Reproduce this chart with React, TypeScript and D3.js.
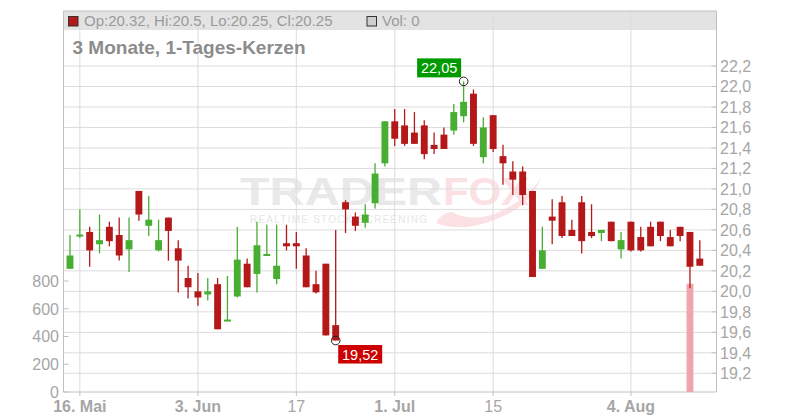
import React from 'react';
import * as d3 from 'd3';

// Daily candles, oldest first
const opens = [
  20.22, 20.54, 20.58, 20.46, 20.63, 20.55, 20.41, 20.98, 20.64, 20.40,
  20.72, 20.42, 20.13, 20.00, 19.97, 20.07, 19.71, 19.95, 20.27, 20.17,
  20.35, 20.12, 20.47, 20.47, 20.35, 20.07, 20.27, 19.67, 20.87, 20.73,
  20.67, 20.86, 21.25, 21.66, 21.62, 21.55, 21.62, 21.43, 21.53, 21.57,
  21.71, 21.93, 21.31, 21.72, 21.32, 21.17, 21.17, 20.98, 20.22, 20.73,
  20.87, 20.60, 20.87, 20.58, 20.57, 20.68, 20.41, 20.68, 20.53, 20.63,
  20.68, 20.53, 20.63, 20.58, 20.32,
];
const highs = [
  20.55, 20.80, 20.63, 20.75, 20.68, 20.72, 20.72, 20.98, 20.93, 20.70,
  20.72, 20.50, 20.25, 20.18, 20.13, 20.13, 20.15, 20.63, 20.32, 20.68,
  20.65, 20.65, 20.65, 20.58, 20.42, 20.20, 20.27, 20.60, 20.89, 20.77,
  20.85, 21.25, 21.66, 21.78, 21.78, 21.75, 21.67, 21.55, 21.60, 21.83,
  22.05, 21.97, 21.70, 21.72, 21.43, 21.27, 21.22, 20.98, 20.63, 20.90,
  20.93, 20.70, 20.93, 20.85, 20.60, 20.68, 20.58, 20.68, 20.63, 20.68,
  20.68, 20.60, 20.63, 20.58, 20.50,
];
const lows = [
  20.22, 20.52, 20.24, 20.37, 20.44, 20.30, 20.19, 20.69, 20.54, 20.39,
  20.30, 19.99, 19.93, 19.86, 19.91, 19.63, 19.71, 19.94, 20.04, 19.99,
  20.35, 20.07, 20.40, 20.22, 20.04, 19.98, 19.57, 19.52, 20.57, 20.59,
  20.62, 20.81, 21.22, 21.42, 21.42, 21.44, 21.29, 21.34, 21.39, 21.53,
  21.65, 21.42, 21.25, 21.36, 21.04, 20.94, 20.84, 20.14, 20.22, 20.46,
  20.52, 20.54, 20.37, 20.52, 20.49, 20.49, 20.32, 20.39, 20.39, 20.44,
  20.49, 20.44, 20.49, 20.03, 20.25,
];
const closes = [
  20.35, 20.55, 20.40, 20.50, 20.49, 20.35, 20.50, 20.75, 20.70, 20.50,
  20.59, 20.30, 20.04, 19.94, 20.00, 19.63, 19.72, 20.31, 20.04, 20.45,
  20.36, 20.25, 20.44, 20.44, 20.04, 19.99, 19.57, 19.52, 20.80, 20.64,
  20.75, 21.15, 21.66, 21.49, 21.44, 21.44, 21.34, 21.39, 21.39, 21.75,
  21.85, 21.44, 21.60, 21.39, 21.25, 21.09, 20.94, 20.14, 20.40, 20.69,
  20.54, 20.54, 20.49, 20.54, 20.60, 20.49, 20.50, 20.40, 20.40, 20.44,
  20.54, 20.44, 20.54, 20.24, 20.25,
];
const volumes = [
  0, 0, 0, 0, 0, 0, 0, 0, 0, 0,
  0, 0, 0, 0, 0, 0, 0, 0, 0, 0,
  0, 0, 0, 0, 0, 0, 0, 0, 0, 0,
  0, 0, 0, 0, 0, 0, 0, 0, 0, 0,
  0, 0, 0, 0, 0, 0, 0, 0, 0, 0,
  0, 0, 0, 0, 0, 0, 0, 0, 0, 0,
  0, 0, 0, 780, 0,
];

const dateTickIdx = [1, 13, 23, 33, 43, 57];
const dateTickLabels = ['16. Mai', '3. Jun', '17', '1. Jul', '15', '4. Aug'];
const priceTicks = [19.2, 19.4, 19.6, 19.8, 20.0, 20.2, 20.4, 20.6, 20.8, 21.0, 21.2, 21.4, 21.6, 21.8, 22.0, 22.2];
const volTicks = [0, 200, 400, 600, 800];

const UP = '#48ae32';
const DOWN = '#b41818';
const GRID = '#dcdcdc';
const AXIS = '#c0c0c0';
const LABEL = '#a6a6a6';
const FONT = '"Liberation Sans", Arial, sans-serif';

const left = 63.5;
const right = 716.5;
const top = 11;
const bottom = 392;

export default function App() {
  const idx = d3.range(opens.length);
  const x = d3.scaleBand<number>().domain(idx).range([63.6, 706.2]).padding(0.3);
  const cx = (i: number) => (x(i) ?? 0) + x.bandwidth() / 2;
  const y = d3.scaleLinear().domain([19.2, 22.2]).range([373.3, 66]);
  const yv = d3.scaleLinear().domain([0, 800]).range([bottom, 281]);
  const fmt = (v: number) => d3.format('.1f')(v).replace('.', ',');
  const fmt2 = (v: number) => d3.format('.2f')(v).replace('.', ',');

  const last = opens.length - 1;
  const hiIdx = d3.maxIndex(highs);
  const loIdx = d3.minIndex(lows);

  return (
    <svg width={800} height={420} style={{ position: 'absolute', left: 0, top: 0, fontFamily: FONT }}>
      <rect x={0} y={0} width={800} height={420} fill="#fff" />

      {/* watermark */}
      <g>
        <text x={240} y={204.5} fontSize={38} fontWeight="bold" fill="#e9e9e9" textLength={202} lengthAdjust="spacingAndGlyphs">TRADER</text>
        <text x={443} y={204.5} fontSize={38} fontWeight="bold" fill="#fbe1e3" textLength={86} lengthAdjust="spacingAndGlyphs">FOX</text>
        <path d="M436,223 Q468,236 515,210 Q533,198 541,178 Q526,201 494,214 Q470,222 452,212 Q441,213 436,223 Z" fill="#fbe1e3" />
        <text x={250} y={222.5} fontSize={10} fill="#e6e6e6" textLength={177} lengthAdjust="spacing">REALTIME STOCK SCREENING</text>
      </g>

      {/* header band */}
      <rect x={left} y={top} width={right - left} height={19} fill="#e3e3e3" />

      {/* grid */}
      {priceTicks.map(t => (
        <line key={'h' + t} x1={left} x2={right} y1={y(t)} y2={y(t)} stroke={GRID} strokeWidth={1} />
      ))}
      {dateTickIdx.map(i => (
        <line key={'v' + i} x1={cx(i)} x2={cx(i)} y1={top} y2={bottom} stroke={GRID} strokeWidth={1} />
      ))}

      {/* frame */}
      <line x1={left} x2={right} y1={top} y2={top} stroke={AXIS} />
      <line x1={left} x2={left} y1={top} y2={bottom} stroke={AXIS} />
      <line x1={right} x2={right} y1={top} y2={bottom} stroke={AXIS} />
      <line x1={left} x2={right} y1={bottom} y2={bottom} stroke={AXIS} />

      {/* header text */}
      <rect x={68.5} y={16.5} width={9.5} height={9.5} fill={closes[last] >= opens[last] ? UP : DOWN} stroke="#333" strokeWidth={1} />
      <text x={84} y={26} fontSize={15} fill="#9a9a9a">
        {`Op:${opens[last]}, Hi:${highs[last]}, Lo:${lows[last]}, Cl:${closes[last]}`}
      </text>
      <rect x={367} y={16.5} width={9.5} height={9.5} fill="#cfcfcf" stroke="#333" strokeWidth={1} />
      <text x={382} y={26} fontSize={15} fill="#9a9a9a">{`Vol: ${volumes[last]}`}</text>
      <text x={72.5} y={54} fontSize={19} fontWeight="bold" fill="#8c8c8c">3 Monate, 1-Tages-Kerzen</text>

      {/* volume */}
      {volumes.map((v, i) => v > 0 && (
        <rect key={'vol' + i} x={x(i)} y={yv(v)} width={x.bandwidth()} height={bottom - yv(v)} fill="#f0a5ad" />
      ))}

      {/* candles */}
      {idx.map(i => {
        const up = closes[i] >= opens[i];
        const c = up ? UP : DOWN;
        const yt = y(Math.max(opens[i], closes[i]));
        const yb = y(Math.min(opens[i], closes[i]));
        const h = Math.max(2, yb - yt);
        return (
          <g key={'c' + i}>
            <line x1={cx(i)} x2={cx(i)} y1={y(highs[i])} y2={y(lows[i])} stroke={c} strokeWidth={1.3} />
            <rect x={x(i)} y={h === 2 ? (yt + yb) / 2 - 1 : yt} width={x.bandwidth()} height={h} fill={c} />
          </g>
        );
      })}

      {/* high / low markers */}
      <circle cx={cx(hiIdx)} cy={y(highs[hiIdx])} r={4.3} fill="none" stroke="#222" strokeWidth={1} />
      <rect x={cx(hiIdx) - 46.5} y={y(highs[hiIdx]) - 23} width={44} height={19} fill="#009a00" />
      <text x={cx(hiIdx) - 24.5} y={y(highs[hiIdx]) - 8} fontSize={14.5} fill="#fff" textAnchor="middle">{fmt2(highs[hiIdx])}</text>
      <circle cx={cx(loIdx)} cy={y(lows[loIdx])} r={4.3} fill="none" stroke="#222" strokeWidth={1} />
      <rect x={cx(loIdx) + 2.5} y={y(lows[loIdx]) + 4.5} width={44} height={18.5} fill="#cc0000" />
      <text x={cx(loIdx) + 24.5} y={y(lows[loIdx]) + 19} fontSize={14.5} fill="#fff" textAnchor="middle">{fmt2(lows[loIdx])}</text>

      {/* right price axis */}
      {priceTicks.map(t => (
        <g key={'p' + t}>
          <line x1={right - 5} x2={right} y1={y(t)} y2={y(t)} stroke={AXIS} />
          <text x={720} y={y(t) + 5.8} fontSize={16} fill={LABEL}>{fmt(t)}</text>
        </g>
      ))}

      {/* left volume axis */}
      {volTicks.map(t => (
        <g key={'vt' + t}>
          <line x1={left} x2={left + 5} y1={yv(t)} y2={yv(t)} stroke={AXIS} />
          <text x={59} y={yv(t) + 5.8} fontSize={16} fill={LABEL} textAnchor="end">{t}</text>
        </g>
      ))}

      {/* bottom date axis */}
      {dateTickIdx.map((i, k) => (
        <g key={'d' + i}>
          <line x1={cx(i)} x2={cx(i)} y1={bottom} y2={bottom + 4} stroke={AXIS} />
          <text x={cx(i)} y={411.5} fontSize={16} fill={LABEL} textAnchor="middle"
            fontWeight={dateTickLabels[k].includes('.') ? 'bold' : 'normal'}>
            {dateTickLabels[k]}
          </text>
        </g>
      ))}
    </svg>
  );
}
